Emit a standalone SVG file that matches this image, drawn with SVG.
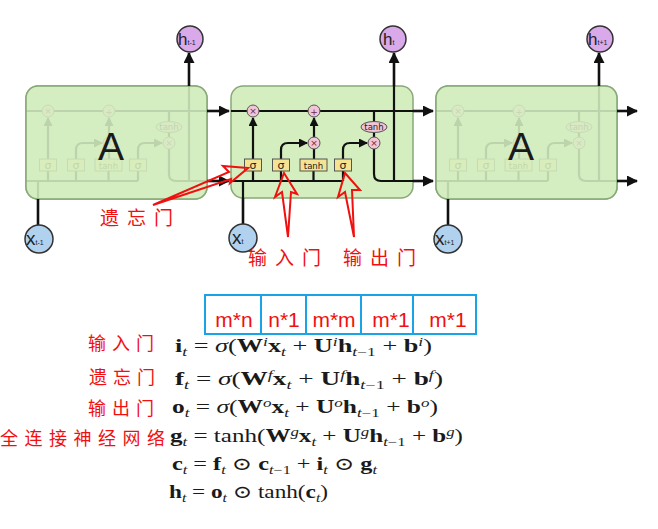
<svg xmlns="http://www.w3.org/2000/svg" xmlns:xlink="http://www.w3.org/1999/xlink" width="658" height="529" viewBox="0 0 658 529">
<style>
.cellbg{fill:#d4eec0;stroke:#88a878;stroke-width:1.5}
.veil{fill:#d4eec0;fill-opacity:0.88;stroke:#88a878;stroke-width:1.5}
.ln{fill:none;stroke:#111;stroke-width:2.2}
.lnb{fill:none;stroke:#111;stroke-width:2.6}
.op{fill:#f1c4d6;stroke:#555;stroke-width:1}
.optx{font-family:"DejaVu Sans",sans-serif;font-size:9px;fill:#6a2a45;text-anchor:middle}
.gate{fill:#f4e392;stroke:#555;stroke-width:1}
.gtx{font-family:"DejaVu Sans",sans-serif;font-size:11px;fill:#222;text-anchor:middle}
.gtt{font-family:"DejaVu Sans",sans-serif;font-size:8.5px;fill:#222;text-anchor:middle}
.A{font-family:"Liberation Sans",Arial,sans-serif;font-size:39px;fill:#1a1a1a;text-anchor:middle}
.hc{fill:#d9a9ea;stroke:#333;stroke-width:1.5}
.xc{fill:#b0d2ef;stroke:#333;stroke-width:1.5}
.ct{font-family:"Liberation Sans",Arial,sans-serif;font-size:17px;fill:#222}
.cs{font-size:7px}
.red{font-family:"Noto Sans CJK SC",sans-serif;font-size:19px;fill:#f01010;letter-spacing:8px}
.redl{font-family:"Noto Sans CJK SC",sans-serif;font-size:18px;fill:#f01010;letter-spacing:6px}
.ra{fill:none;stroke:#f01010;stroke-width:2;stroke-linejoin:miter}
.bx{fill:none;stroke:#1aa3e6;stroke-width:2}
.mt{font-family:"Liberation Sans",Arial,sans-serif;font-size:21px;fill:#f01010;text-anchor:middle}
.eq{font-family:"Liberation Serif","DejaVu Serif",serif;font-size:18px;fill:#1a1a1a}
.b{font-weight:bold}
.i{font-style:italic}
.sub{font-size:12px;baseline-shift:-4px}
.sup{font-size:12px;baseline-shift:6px;font-style:italic}
</style>
<defs>
<marker id="ah" markerUnits="userSpaceOnUse" markerWidth="11" markerHeight="11" refX="10" refY="5.5" orient="auto">
<path d="M0,0 L11,5.5 L0,11 z" fill="#111"/>
</marker>
<marker id="as" markerUnits="userSpaceOnUse" markerWidth="9" markerHeight="9" refX="8" refY="4.5" orient="auto">
<path d="M0,0 L9,4.5 L0,9 z" fill="#111"/>
</marker>
<g id="inner">
<path class="ln" d="M231 111 H413"/>
<path class="ln" d="M231 181 H343"/>
<path class="ln" d="M243 198 V181"/>
<path class="ln" d="M253 181 V171 M281 181 V171 M313.5 181 V171 M343 181 V171"/>
<path class="ln" d="M253 159 V118" marker-end="url(#as)"/>
<path class="ln" d="M281 159 V150 Q281 143 288 143 H307" marker-end="url(#as)"/>
<path class="ln" d="M314 159 V149"/>
<path class="ln" d="M314 137 V118" marker-end="url(#as)"/>
<path class="ln" d="M343 159 V150 Q343 143 350 143 H367" marker-end="url(#as)"/>
<path class="ln" d="M374 111 V121.5 M374 132.5 V137"/>
<path class="ln" d="M374 149 V174 Q374 181 381 181 H413"/>
<path class="ln" d="M394 181 V86"/>
<rect class="gate" x="244.5" y="159" width="17" height="12"/>
<text class="gtx" x="253" y="169">σ</text>
<rect class="gate" x="272.5" y="159" width="17" height="12"/>
<text class="gtx" x="281" y="169">σ</text>
<rect class="gate" x="300" y="159" width="27" height="12"/>
<text class="gtt" x="313.5" y="168.5">tanh</text>
<rect class="gate" x="334.5" y="159" width="17" height="12"/>
<text class="gtx" x="343" y="169">σ</text>
<circle class="op" cx="253" cy="111" r="6"/>
<text class="optx" x="253" y="114">×</text>
<circle class="op" cx="314" cy="111" r="6"/>
<text class="optx" x="314" y="114.5">+</text>
<circle class="op" cx="314" cy="143" r="6"/>
<text class="optx" x="314" y="146">×</text>
<circle class="op" cx="374" cy="143" r="6"/>
<text class="optx" x="374" y="146">×</text>
<ellipse class="op" cx="374" cy="127" rx="13" ry="5.5"/>
<text class="gtt" x="374" y="130">tanh</text>
</g>
</defs>

<g id="cell-left">
<rect class="cellbg" x="26" y="86" width="181" height="113" rx="12"/>
<use xlink:href="#inner" href="#inner" transform="translate(-205 0)"/>
<rect class="veil" x="26" y="86" width="181" height="113" rx="12"/>
<text class="A" x="111" y="160">A</text>
</g>

<g id="cell-mid">
<rect class="cellbg" x="231" y="86" width="182" height="112" rx="12"/>
<use xlink:href="#inner" href="#inner"/>
</g>

<g id="cell-right">
<rect class="cellbg" x="436" y="86" width="181" height="113" rx="12"/>
<use xlink:href="#inner" href="#inner" transform="translate(205 0)"/>
<rect class="veil" x="436" y="86" width="181" height="113" rx="12"/>
<text class="A" x="521" y="160">A</text>
</g>

<g id="connectors">
<path class="lnb" d="M207 111 H229" marker-end="url(#ah)"/>
<path class="lnb" d="M207 181 H229" marker-end="url(#ah)"/>
<path class="lnb" d="M413 111 H433" marker-end="url(#ah)"/>
<path class="lnb" d="M413 181 H433" marker-end="url(#ah)"/>
<path class="lnb" d="M617 111 H637" marker-end="url(#ah)"/>
<path class="lnb" d="M617 181 H637" marker-end="url(#ah)"/>
<path class="lnb" d="M189 86 V53" marker-end="url(#ah)"/>
<path class="lnb" d="M394 86 V53" marker-end="url(#ah)"/>
<path class="lnb" d="M599 86 V53" marker-end="url(#ah)"/>
<path class="lnb" d="M38 199 V225"/>
<path class="lnb" d="M243 198 V224"/>
<path class="lnb" d="M448 199 V225"/>
</g>

<g id="h-prev">
<circle class="hc" cx="190" cy="39" r="13"/>
<text class="ct" x="178" y="45">h<tspan class="cs">t-1</tspan></text>
</g>
<g id="h-cur">
<circle class="hc" cx="393" cy="39" r="13"/>
<text class="ct" x="383" y="45">h<tspan class="cs">t</tspan></text>
</g>
<g id="h-next">
<circle class="hc" cx="600" cy="39" r="13"/>
<text class="ct" x="588" y="45">h<tspan class="cs">t+1</tspan></text>
</g>
<g id="x-prev">
<circle class="xc" cx="39" cy="239" r="14"/>
<text class="ct" x="26" y="245" style="font-size:19px">x<tspan class="cs">t-1</tspan></text>
</g>
<g id="x-cur">
<circle class="xc" cx="243" cy="238" r="14"/>
<text class="ct" x="232" y="244" style="font-size:19px">x<tspan class="cs">t</tspan></text>
</g>
<g id="x-next">
<circle class="xc" cx="448" cy="239" r="14"/>
<text class="ct" x="435" y="245" style="font-size:19px">x<tspan class="cs">t+1</tspan></text>
</g>

<g id="annotations">
<polygon class="ra" points="248,168 223,166 229,172 153,205 231,179 230,183"/>
<polygon class="ra" points="284,173 297,194 291,192 288,237 282,192 275,197"/>
<polygon class="ra" points="345,173 360,190 352,190 354,237 345,192 338,197"/>
<text class="red" x="100" y="225">遗忘门</text>
<text class="red" x="248" y="265">输入门</text>
<text class="red" x="343" y="265">输出门</text>
</g>

<g id="dims">
<rect class="bx" x="205" y="295" width="56" height="39"/>
<rect class="bx" x="261" y="295" width="45" height="39"/>
<rect class="bx" x="306" y="295" width="55" height="39"/>
<rect class="bx" x="361" y="295" width="52" height="39"/>
<rect class="bx" x="413" y="295" width="63" height="39"/>
<text class="mt" x="234" y="327">m*n</text>
<text class="mt" x="284" y="327">n*1</text>
<text class="mt" x="334" y="327">m*m</text>
<text class="mt" x="391" y="327">m*1</text>
<text class="mt" x="448" y="327">m*1</text>
</g>

<g id="labels">
<text class="redl" x="88" y="350">输入门</text>
<text class="redl" x="89" y="384">遗忘门</text>
<text class="redl" x="88" y="415">输出门</text>
<text class="redl" x="0" y="445" style="letter-spacing:6.5px">全连接神经网络</text>
</g>

<g id="equations">
<text class="eq" x="175" y="352" textLength="257" lengthAdjust="spacingAndGlyphs"><tspan class="b">i</tspan><tspan class="sub i">t</tspan> = <tspan class="i">σ</tspan>(<tspan class="b">W</tspan><tspan class="sup">i</tspan><tspan class="b">x</tspan><tspan class="sub i">t</tspan> + <tspan class="b">U</tspan><tspan class="sup">i</tspan><tspan class="b">h</tspan><tspan class="sub"><tspan class="i">t</tspan>−1</tspan> + <tspan class="b">b</tspan><tspan class="sup">i</tspan>)</text>
<text class="eq" x="175" y="385" textLength="268" lengthAdjust="spacingAndGlyphs"><tspan class="b">f</tspan><tspan class="sub i">t</tspan> = <tspan class="i">σ</tspan>(<tspan class="b">W</tspan><tspan class="sup">f</tspan><tspan class="b">x</tspan><tspan class="sub i">t</tspan> + <tspan class="b">U</tspan><tspan class="sup">f</tspan><tspan class="b">h</tspan><tspan class="sub"><tspan class="i">t</tspan>−1</tspan> + <tspan class="b">b</tspan><tspan class="sup">f</tspan>)</text>
<text class="eq" x="172" y="413" textLength="266" lengthAdjust="spacingAndGlyphs"><tspan class="b">o</tspan><tspan class="sub i">t</tspan> = <tspan class="i">σ</tspan>(<tspan class="b">W</tspan><tspan class="sup">o</tspan><tspan class="b">x</tspan><tspan class="sub i">t</tspan> + <tspan class="b">U</tspan><tspan class="sup">o</tspan><tspan class="b">h</tspan><tspan class="sub"><tspan class="i">t</tspan>−1</tspan> + <tspan class="b">b</tspan><tspan class="sup">o</tspan>)</text>
<text class="eq" x="170" y="442" textLength="293" lengthAdjust="spacingAndGlyphs"><tspan class="b">g</tspan><tspan class="sub i">t</tspan> = tanh(<tspan class="b">W</tspan><tspan class="sup">g</tspan><tspan class="b">x</tspan><tspan class="sub i">t</tspan> + <tspan class="b">U</tspan><tspan class="sup">g</tspan><tspan class="b">h</tspan><tspan class="sub"><tspan class="i">t</tspan>−1</tspan> + <tspan class="b">b</tspan><tspan class="sup">g</tspan>)</text>
<text class="eq" x="172" y="470" textLength="205" lengthAdjust="spacingAndGlyphs"><tspan class="b">c</tspan><tspan class="sub i">t</tspan> = <tspan class="b">f</tspan><tspan class="sub i">t</tspan> ⊙ <tspan class="b">c</tspan><tspan class="sub"><tspan class="i">t</tspan>−1</tspan> + <tspan class="b">i</tspan><tspan class="sub i">t</tspan> ⊙ <tspan class="b">g</tspan><tspan class="sub i">t</tspan></text>
<text class="eq" x="169" y="498" textLength="159" lengthAdjust="spacingAndGlyphs"><tspan class="b">h</tspan><tspan class="sub i">t</tspan> = <tspan class="b">o</tspan><tspan class="sub i">t</tspan> ⊙ tanh(<tspan class="b">c</tspan><tspan class="sub i">t</tspan>)</text>
</g>
</svg>
